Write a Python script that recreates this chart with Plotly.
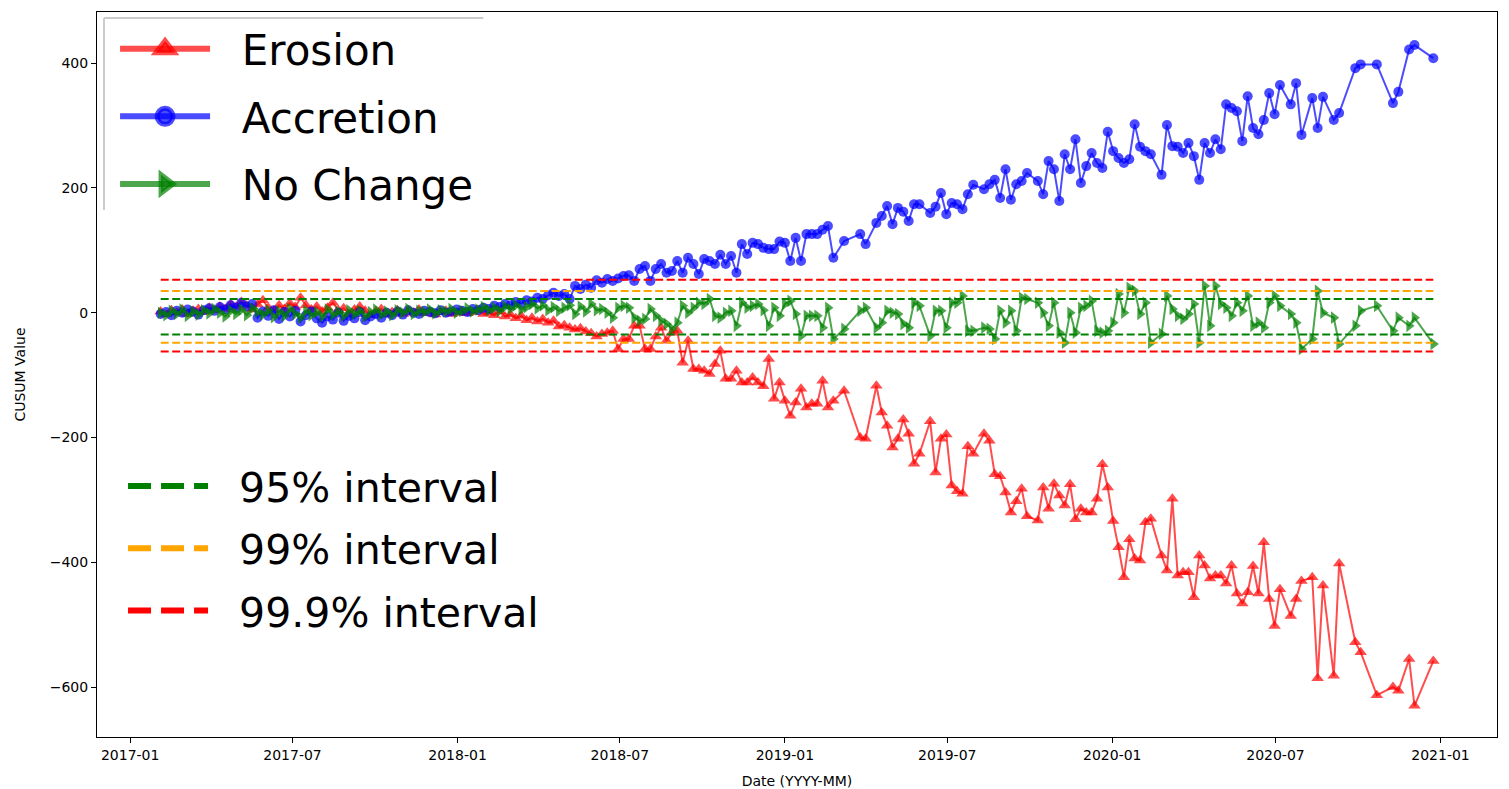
import plotly.graph_objects as go

# Acquisition dates shared by all three transects
dates = [
    "2017-02-04", "2017-02-10", "2017-02-16", "2017-02-22", "2017-02-28", "2017-03-06", "2017-03-12", "2017-03-18",
    "2017-03-24", "2017-03-30", "2017-04-05", "2017-04-11", "2017-04-17", "2017-04-23", "2017-04-29", "2017-05-05",
    "2017-05-11", "2017-05-17", "2017-05-23", "2017-05-29", "2017-06-04", "2017-06-10", "2017-06-16", "2017-06-22",
    "2017-06-28", "2017-07-04", "2017-07-10", "2017-07-16", "2017-07-22", "2017-07-28", "2017-08-03", "2017-08-09",
    "2017-08-15", "2017-08-21", "2017-08-27", "2017-09-02", "2017-09-08", "2017-09-14", "2017-09-20", "2017-09-26",
    "2017-10-02", "2017-10-08", "2017-10-14", "2017-10-20", "2017-10-26", "2017-11-01", "2017-11-07", "2017-11-13",
    "2017-11-19", "2017-11-25", "2017-12-01", "2017-12-07", "2017-12-13", "2017-12-19", "2017-12-25", "2017-12-31",
    "2018-01-06", "2018-01-12", "2018-01-18", "2018-01-24", "2018-01-30", "2018-02-05", "2018-02-11", "2018-02-17",
    "2018-02-23", "2018-03-01", "2018-03-07", "2018-03-13", "2018-03-19", "2018-03-25", "2018-03-31", "2018-04-06",
    "2018-04-12", "2018-04-18", "2018-04-24", "2018-04-30", "2018-05-06", "2018-05-12", "2018-05-18", "2018-05-24",
    "2018-05-30", "2018-06-05", "2018-06-11", "2018-06-17", "2018-06-23", "2018-06-29", "2018-07-05", "2018-07-11",
    "2018-07-17", "2018-07-23", "2018-07-29", "2018-08-04", "2018-08-10", "2018-08-16", "2018-08-22", "2018-08-28",
    "2018-09-03", "2018-09-09", "2018-09-15", "2018-09-21", "2018-09-27", "2018-10-03", "2018-10-09", "2018-10-15",
    "2018-10-21", "2018-10-27", "2018-11-02", "2018-11-08", "2018-11-14", "2018-11-20", "2018-11-26", "2018-12-02",
    "2018-12-08", "2018-12-14", "2018-12-20", "2018-12-26", "2019-01-01", "2019-01-07", "2019-01-13", "2019-01-19",
    "2019-01-25", "2019-01-31", "2019-02-06", "2019-02-12", "2019-02-18", "2019-02-24", "2019-03-08", "2019-03-26",
    "2019-04-01", "2019-04-13", "2019-04-19", "2019-04-25", "2019-05-01", "2019-05-07", "2019-05-13", "2019-05-19",
    "2019-05-25", "2019-05-31", "2019-06-12", "2019-06-18", "2019-06-24", "2019-06-30", "2019-07-06", "2019-07-12",
    "2019-07-18", "2019-07-24", "2019-07-30", "2019-08-11", "2019-08-17", "2019-08-23", "2019-08-29", "2019-09-04",
    "2019-09-10", "2019-09-16", "2019-09-22", "2019-09-28", "2019-10-10", "2019-10-16", "2019-10-22", "2019-10-28",
    "2019-11-03", "2019-11-09", "2019-11-15", "2019-11-21", "2019-11-27", "2019-12-03", "2019-12-09", "2019-12-15",
    "2019-12-21", "2019-12-27", "2020-01-02", "2020-01-08", "2020-01-14", "2020-01-20", "2020-01-26", "2020-02-01",
    "2020-02-07", "2020-02-13", "2020-02-25", "2020-03-02", "2020-03-08", "2020-03-14", "2020-03-20", "2020-03-26",
    "2020-04-01", "2020-04-07", "2020-04-13", "2020-04-19", "2020-04-25", "2020-05-01", "2020-05-07", "2020-05-13",
    "2020-05-19", "2020-05-25", "2020-05-31", "2020-06-06", "2020-06-12", "2020-06-18", "2020-06-24", "2020-06-30",
    "2020-07-06", "2020-07-18", "2020-07-24", "2020-07-30", "2020-08-11", "2020-08-17", "2020-08-23", "2020-09-04",
    "2020-09-10", "2020-09-28", "2020-10-04", "2020-10-22", "2020-11-09", "2020-11-15", "2020-11-27", "2020-12-03",
    "2020-12-24",
]

# CUSUM values per transect class
erosion = [
    2, -3, 4, 0, 5, -2, 3, 6, 1, 8, 4, 10, 6, 14, 9, 17, 11, 5, 13, 20, 8, 3, 12, 6,
    15, 9, 24, 12, 5, 10, 2, 8, 16, 4, 7, -2, 5, 10, 3, -4, 2, 6, -3, 1, 4, -2, 3, 0,
    5, -1, 2, -3, 1, 3, -2, 0, 2, -1, 1, 4, -2, 0, -4, 2, -6, -3, -9, -5, -12, -8, -14, -10,
    -16, -13, -22, -20, -24, -27, -25, -30, -33, -38, -34, -32, -29, -58, -42, -42, -21, -21, -58, -58,
    -38, -24, -45, -32, -29, -80, -45, -90, -90, -93, -98, -82, -61, -106, -106, -93, -112, -112, -104, -112,
    -118, -74, -138, -112, -141, -165, -144, -122, -152, -146, -146, -109, -152, -141, -125, -200, -202, -117,
    -160, -181, -216, -202, -171, -194, -242, -226, -174, -256, -202, -195, -277, -286, -290, -214, -226, -194,
    -205, -259, -262, -288, -320, -302, -282, -326, -333, -280, -314, -274, -293, -309, -275, -331, -314, -320,
    -320, -298, -243, -280, -334, -376, -424, -363, -394, -397, -336, -330, -389, -413, -298, -421, -416, -416,
    -456, -389, -405, -426, -421, -421, -434, -405, -450, -466, -448, -406, -450, -368, -459, -502, -443, -486,
    -459, -430, -424, -586, -437, -582, -402, -528, -544, -613, -600, -606, -555, -630, -558,
]

accretion = [
    -2, 1, -4, 3, 0, 5, 2, -3, 4, 7, 3, 9, 5, 12, 8, 16, 10, 14, -8, 2, -5, 4, -10, 1,
    -6, 3, -14, -4, 2, -9, -16, -6, -11, 0, -13, -5, -9, 1, -12, -6, -2, -8, 0, -4, 2, -3,
    4, 0, -2, 3, 1, -1, 4, 0, 2, 5, 3, 1, 6, 4, 8, 6, 11, 9, 14, 12, 17, 15, 20, 18,
    24, 22, 28, 32, 27, 30, 22, 43, 38, 45, 40, 52, 48, 54, 51, 55, 59, 60, 51, 70, 75, 51,
    70, 78, 64, 67, 83, 64, 88, 78, 62, 86, 83, 78, 93, 78, 91, 64, 110, 94, 112, 110,
    104, 102, 102, 114, 112, 83, 120, 83, 126, 126, 126, 133, 139, 88, 115, 126, 110, 144,
    155, 171, 142, 168, 162, 147, 174, 174, 160, 170, 192, 158, 176, 174, 166, 190, 205, 198,
    206, 213, 184, 230, 181, 206, 211, 224, 211, 190, 243, 230, 179, 254, 230, 278, 208, 235,
    256, 240, 232, 290, 259, 248, 240, 246, 302, 266, 259, 254, 221, 301, 267, 266, 256, 272,
    251, 213, 272, 256, 278, 262, 334, 328, 323, 275, 347, 296, 286, 309, 352, 318, 365, 334,
    368, 285, 344, 296, 346, 309, 320, 392, 398, 398, 336, 354, 422, 429, 408,
]

no_change = [
    0, -4, 3, -2, 5, -5, 2, -3, 4, -1, 6, 0, -6, 3, -2, 5, -4, 7, 1, -3, 4, -7, 2, -5,
    6, -2, -8, 3, -4, 1, -6, 5, -3, 2, -5, 4, -2, 3, -6, 1, 5, -3, 2, -4, 4, 0, 6, -2,
    3, 1, 5, -1, 4, 2, 6, 0, 3, 7, 2, 5, 9, 4, 8, 3, 10, 6, 12, 5, 9, 14, 7, 12,
    4, 9, 3, 8, 12, -2, 10, 2, 14, 4, 6, 0, -8, 8, 11, 8, -8, -13, -10, 6,
    -5, -13, -18, -26, -16, 11, 0, 8, 16, 14, 22, -5, -8, 0, 3, -21, 16, 8, 11, 14,
    4, -21, 8, -5, 14, 19, -2, -37, -5, -5, -5, -24, 8, -42, -26, 3, 8, -24,
    -16, 3, 0, -2, -18, -24, 16, 11, -37, 3, 3, -24, 16, 16, 27, -29, -29, -24,
    -26, -42, 3, -16, 3, -29, 24, 22, 16, 0, -21, 16, -32, -48, 0, -32, 8, 11,
    19, -29, -32, -29, -16, 30, 0, 40, 35, -2, 16, -48, -34, 27, 6, -5, -10, -2,
    14, -48, 43, -21, 43, 14, 8, -5, 16, 3, 27, -21, -16, -24, 16, 27, 11, -2,
    -16, -58, -42, 35, 0, -8, -50, -21, 3, 11, -29, -8, -21, -8, -50,
]

# Confidence bands of the no-change CUSUM
interval_names = ["95% interval", "99% interval", "99.9% interval"]
interval_upper = [22, 35, 53]
interval_lower = [-35, -48, -62]

series_names = ["Erosion", "Accretion", "No Change"]
series_values = [erosion, accretion, no_change]
series_rgb = ["255,0,0", "0,0,255", "0,128,0"]
series_symbols = ["triangle-up", "circle", "triangle-right"]
series_sizes = [11, 10, 11]

interval_colors = ["green", "orange", "red"]

FONT = "DejaVu Sans"
GAP = "\u00a0\u00a0"  # spacing between legend key and label

fig = go.Figure()

for name, vals, rgb, sym, size in zip(series_names, series_values, series_rgb,
                                      series_symbols, series_sizes):
    col = f"rgba({rgb},0.7)"
    fig.add_trace(go.Scatter(
        x=dates, y=vals, mode="lines+markers", name=name, legendgroup=name,
        showlegend=False,
        line=dict(color=col, width=2),
        marker=dict(symbol=sym, size=size, color=col, line=dict(width=0)),
    ))

for name, up, lo, col in zip(interval_names, interval_upper, interval_lower, interval_colors):
    for level in (up, lo):
        fig.add_trace(go.Scatter(
            x=[dates[0], dates[-1]], y=[level, level], mode="lines",
            name=name, legendgroup=name, showlegend=False,
            line=dict(color=col, width=2, dash="8px,3.5px"),
            hoverinfo="skip",
        ))

# Legend keys (class markers, larger than on the chart)
for name, rgb, sym in zip(series_names, series_rgb, series_symbols):
    col = f"rgba({rgb},0.7)"
    fig.add_trace(go.Scatter(
        x=[None], y=[None], mode="lines+markers", name=GAP + name, legendgroup=name,
        legend="legend",
        line=dict(color=col, width=6),
        marker=dict(symbol=sym, size=16, color=col, line=dict(width=5, color=col)),
    ))

for name, col in zip(interval_names, interval_colors):
    fig.add_trace(go.Scatter(
        x=[None], y=[None], mode="lines", name=GAP + name, legendgroup=name,
        legend="legend2",
        line=dict(color=col, width=6, dash="23px,10px"),
    ))

axis_common = dict(
    showgrid=False, zeroline=False, showline=True, linecolor="black", linewidth=1,
    mirror=True, ticks="outside", ticklen=5, tickwidth=1, tickcolor="black",
    tickfont=dict(family=FONT, size=14, color="black"), automargin=False,
)

fig.update_layout(
    width=1509, height=789,
    margin=dict(l=97, r=12, t=12, b=52),
    paper_bgcolor="white", plot_bgcolor="white",
    font=dict(family=FONT, color="black"),
    xaxis=dict(
        type="date", range=["2016-11-25", "2021-03-05"],
        tickvals=["2017-01-01", "2017-07-01", "2018-01-01", "2018-07-01", "2019-01-01",
                  "2019-07-01", "2020-01-01", "2020-07-01", "2021-01-01"],
        tickformat="%Y-%m",
        title=dict(text="Date (YYYY-MM)", font=dict(family=FONT, size=14), standoff=14),
        **axis_common,
    ),
    yaxis=dict(
        range=[-680, 482],
        tickvals=[-600, -400, -200, 0, 200, 400],
        title=dict(text="CUSUM Value", font=dict(family=FONT, size=14), standoff=20),
        **axis_common,
    ),
    legend=dict(
        x=0.0129, y=0.996, xanchor="left", yanchor="top",
        bgcolor="rgba(255,255,255,0)", borderwidth=0,
        font=dict(family=FONT, size=42, color="black"),
        itemwidth=90, traceorder="grouped", tracegroupgap=10,
    ),
    legend2=dict(
        x=0.0186, y=0.392, xanchor="left", yanchor="top",
        bgcolor="rgba(255,255,255,0)", borderwidth=0,
        font=dict(family=FONT, size=41, color="black"),
        itemwidth=80, traceorder="grouped", tracegroupgap=6,
    ),
    shapes=[
        dict(type="line", xref="paper", yref="paper", x0=0.005, x1=0.276, y0=0.9917, y1=0.9917,
             line=dict(color="#cccccc", width=2)),
        dict(type="line", xref="paper", yref="paper", x0=0.005, x1=0.005, y0=0.9917, y1=0.727,
             line=dict(color="#cccccc", width=2)),
    ],
    showlegend=True,
)

fig.write_html("out.html")
